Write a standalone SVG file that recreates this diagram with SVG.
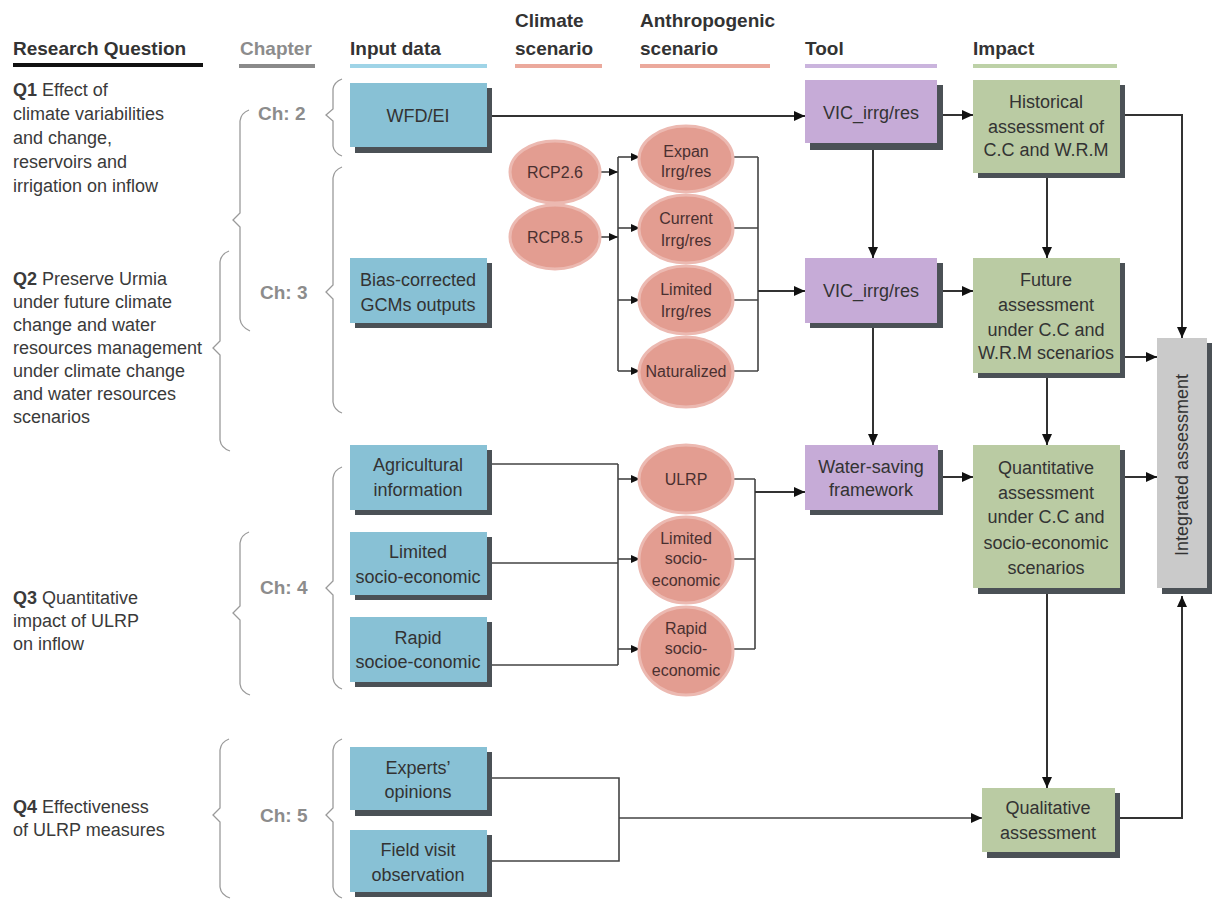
<svg xmlns="http://www.w3.org/2000/svg" width="1213" height="899" viewBox="0 0 1213 899">
<defs>
<style>
text{font-family:"Liberation Sans",Arial,sans-serif;fill:#3a3a3a}
.hd{font-size:19px;font-weight:bold;fill:#333}
.q{font-size:18px}
.qb{font-weight:bold}
.ch{font-size:19px;font-weight:bold;fill:#8c8c8c}
.bt{font-size:18px;text-anchor:middle;fill:#333}
.et{font-size:16px;text-anchor:middle;fill:#4a3030}
.sh{fill:#4b5156}
.blue{fill:#88c1d5}
.purp{fill:#c6abd7}
.green{fill:#bacba3}
.gray{fill:#cacaca}
.ell{fill:#e39d91;stroke:#ecb9b1;stroke-width:3}
.br{fill:none;stroke:#9a9a9a;stroke-width:1.3}
.c{fill:none;stroke:#333;stroke-width:2}
.cs{fill:none;stroke:#444;stroke-width:1.6}
</style>
<marker id="ah" markerUnits="userSpaceOnUse" markerWidth="12" markerHeight="10" refX="11" refY="5" orient="auto"><path d="M0,0 L11,5 L0,10 z" fill="#111"/></marker>
<marker id="as" markerUnits="userSpaceOnUse" markerWidth="10" markerHeight="8" refX="9" refY="4" orient="auto"><path d="M0,0 L9,4 L0,8 z" fill="#111"/></marker>
</defs>
<rect width="1213" height="899" fill="#fff"/>

<g id="headers">
<text class="hd" x="13" y="55">Research Question</text>
<rect x="13" y="63" width="190" height="4" fill="#111"/>
<text class="hd" x="240" y="55" style="fill:#8c8c8c">Chapter</text>
<rect x="239" y="64" width="76" height="4" fill="#8a8a8a"/>
<text class="hd" x="350" y="55">Input data</text>
<rect x="350" y="64" width="137" height="4" fill="#9fd4e7"/>
<text class="hd" x="515" y="27">Climate</text>
<text class="hd" x="515" y="55">scenario</text>
<rect x="515" y="64" width="87" height="4" fill="#eba99c"/>
<text class="hd" x="640" y="27">Anthropogenic</text>
<text class="hd" x="640" y="55">scenario</text>
<rect x="640" y="64" width="130" height="4" fill="#eba99c"/>
<text class="hd" x="805" y="55">Tool</text>
<rect x="805" y="64" width="132" height="4" fill="#cab4dd"/>
<text class="hd" x="973" y="55">Impact</text>
<rect x="973" y="64" width="144" height="4" fill="#bdd1a7"/>
</g>

<g id="questions">
<text class="q" x="13" y="96"><tspan class="qb">Q1</tspan> Effect of</text>
<text class="q" x="13" y="120">climate variabilities</text>
<text class="q" x="13" y="144">and change,</text>
<text class="q" x="13" y="168">reservoirs and</text>
<text class="q" x="13" y="192">irrigation on inflow</text>
<text class="q" x="13" y="285"><tspan class="qb">Q2</tspan> Preserve Urmia</text>
<text class="q" x="13" y="308">under future climate</text>
<text class="q" x="13" y="331">change and water</text>
<text class="q" x="13" y="354">resources management</text>
<text class="q" x="13" y="377">under climate change</text>
<text class="q" x="13" y="400">and water resources</text>
<text class="q" x="13" y="423">scenarios</text>
<text class="q" x="13" y="604"><tspan class="qb">Q3</tspan> Quantitative</text>
<text class="q" x="13" y="627">impact of ULRP</text>
<text class="q" x="13" y="650">on inflow</text>
<text class="q" x="13" y="813"><tspan class="qb">Q4</tspan> Effectiveness</text>
<text class="q" x="13" y="836">of ULRP measures</text>
</g>

<g id="braces">
<path class="br" d="M249,110 Q241,113 240,121 V213 L233,220 L240,227 V319 Q241,327 250,331"/>
<path class="br" d="M229,251 Q221,254 220,262 V341 L213,348 L220,355 V440 Q221,448 230,451"/>
<path class="br" d="M249,532 Q241,535 240,543 V606 L233,613 L240,620 V684 Q241,692 250,695"/>
<path class="br" d="M229,739 Q221,742 220,750 V808 L213,815 L220,822 V887 Q221,895 230,898"/>
<path class="br" d="M342,79 Q334,82 333,89 V109 L326,115 L333,121 V146 Q334,153 342,156"/>
<path class="br" d="M342,167 Q334,170 333,178 V285 L326,292 L333,299 V402 Q334,410 342,413"/>
<path class="br" d="M342,467 Q334,470 333,478 V581 L326,588 L333,595 V678 Q334,686 342,689"/>
<path class="br" d="M342,739 Q334,742 333,750 V808 L326,815 L333,822 V887 Q334,895 342,898"/>
</g>

<g id="chapters">
<text class="ch" x="258" y="120">Ch: 2</text>
<text class="ch" x="260" y="299">Ch: 3</text>
<text class="ch" x="260" y="594">Ch: 4</text>
<text class="ch" x="260" y="822">Ch: 5</text>
</g>

<g id="connectors">
<path class="c" d="M492,116 H805" marker-end="url(#ah)"/>
<path class="c" d="M943,115 H973" marker-end="url(#ah)"/>
<path class="c" d="M1125,115 H1182 V338" marker-end="url(#ah)"/>
<path class="c" d="M873,150 V258" marker-end="url(#ah)"/>
<path class="c" d="M1047,178 V258" marker-end="url(#ah)"/>
<path class="cs" d="M601,172 H618" marker-end="url(#as)"/>
<path class="cs" d="M601,237 H618" marker-end="url(#as)"/>
<path class="cs" d="M618,157 V371"/>
<path class="cs" d="M618,157 H640" marker-end="url(#as)"/>
<path class="cs" d="M618,228 H640" marker-end="url(#as)"/>
<path class="cs" d="M618,300 H640" marker-end="url(#as)"/>
<path class="cs" d="M618,371 H640" marker-end="url(#as)"/>
<path class="cs" d="M733,157 H758 M733,228 H758 M733,300 H758 M733,371 H758 M758,157 V371"/>
<path class="c" d="M758,291 H805" marker-end="url(#ah)"/>
<path class="c" d="M943,291 H973" marker-end="url(#ah)"/>
<path class="c" d="M873,328 V445" marker-end="url(#ah)"/>
<path class="c" d="M1047,378 V445" marker-end="url(#ah)"/>
<path class="c" d="M1125,357 H1157" marker-end="url(#ah)"/>
<path class="cs" d="M492,464 H618 M492,563 H618 M492,665 H618 M618,464 V665"/>
<path class="cs" d="M618,479 H640" marker-end="url(#as)"/>
<path class="cs" d="M618,559 H640" marker-end="url(#as)"/>
<path class="cs" d="M618,649 H640" marker-end="url(#as)"/>
<path class="cs" d="M733,479 H755 M733,559 H755 M733,649 H755 M755,479 V649"/>
<path class="c" d="M755,492 H805" marker-end="url(#ah)"/>
<path class="c" d="M943,477 H973" marker-end="url(#ah)"/>
<path class="c" d="M1125,477 H1157" marker-end="url(#ah)"/>
<path class="c" d="M1047,594 V788" marker-end="url(#ah)"/>
<path class="cs" d="M492,778 H619 V861 H492 M619,818 H982" marker-end="url(#ah)"/>
<path class="c" d="M1120,818 H1182 V596" marker-end="url(#ah)"/>
</g>

<g id="wfd"><rect class="sh" x="355" y="88" width="137" height="65"/><rect class="blue" x="350" y="83" width="137" height="64"/><text class="bt" x="418" y="122">WFD/EI</text></g>
<g id="bias"><rect class="sh" x="355" y="263" width="137" height="65"/><rect class="blue" x="350" y="258" width="137" height="65"/><text class="bt" x="418" y="286">Bias-corrected</text><text class="bt" x="418" y="311">GCMs outputs</text></g>
<g id="agri"><rect class="sh" x="355" y="450" width="137" height="65"/><rect class="blue" x="350" y="445" width="137" height="65"/><text class="bt" x="418" y="471">Agricultural</text><text class="bt" x="418" y="496">information</text></g>
<g id="limsoc-in"><rect class="sh" x="355" y="537" width="137" height="63"/><rect class="blue" x="350" y="532" width="137" height="63"/><text class="bt" x="418" y="558">Limited</text><text class="bt" x="418" y="583">socio-economic</text></g>
<g id="rapsoc-in"><rect class="sh" x="355" y="622" width="137" height="65"/><rect class="blue" x="350" y="617" width="137" height="65"/><text class="bt" x="418" y="644">Rapid</text><text class="bt" x="418" y="668">socioe-conomic</text></g>
<g id="experts"><rect class="sh" x="355" y="752" width="137" height="64"/><rect class="blue" x="350" y="747" width="137" height="63"/><text class="bt" x="418" y="774">Experts’</text><text class="bt" x="418" y="798">opinions</text></g>
<g id="field"><rect class="sh" x="355" y="835" width="137" height="62"/><rect class="blue" x="350" y="830" width="137" height="62"/><text class="bt" x="418" y="856">Field visit</text><text class="bt" x="418" y="881">observation</text></g>

<g id="rcp26"><ellipse class="ell" cx="555" cy="172" rx="45" ry="31"/><text class="et" x="555" y="178">RCP2.6</text></g>
<g id="rcp85"><ellipse class="ell" cx="555" cy="237" rx="45" ry="32"/><text class="et" x="555" y="243">RCP8.5</text></g>

<g id="expan"><ellipse class="ell" cx="686" cy="159" rx="47" ry="33"/><text class="et" x="686" y="157">Expan</text><text class="et" x="686" y="177">Irrg/res</text></g>
<g id="current"><ellipse class="ell" cx="686" cy="229" rx="47" ry="34"/><text class="et" x="686" y="224">Current</text><text class="et" x="686" y="246">Irrg/res</text></g>
<g id="limited"><ellipse class="ell" cx="686" cy="300" rx="47" ry="34"/><text class="et" x="686" y="295">Limited</text><text class="et" x="686" y="317">Irrg/res</text></g>
<g id="naturalized"><ellipse class="ell" cx="686" cy="372" rx="47" ry="35"/><text class="et" x="686" y="377">Naturalized</text></g>
<g id="ulrp"><ellipse class="ell" cx="686" cy="479" rx="47" ry="34"/><text class="et" x="686" y="485">ULRP</text></g>
<g id="limsoc"><ellipse class="ell" cx="686" cy="560" rx="47" ry="43"/><text class="et" x="686" y="544">Limited</text><text class="et" x="686" y="564">socio-</text><text class="et" x="686" y="586">economic</text></g>
<g id="rapsoc"><ellipse class="ell" cx="686" cy="651" rx="47" ry="44"/><text class="et" x="686" y="634">Rapid</text><text class="et" x="686" y="654">socio-</text><text class="et" x="686" y="676">economic</text></g>

<g id="vic1"><rect class="sh" x="810" y="85" width="133" height="65"/><rect class="purp" x="805" y="80" width="132" height="63"/><text class="bt" x="871" y="119">VIC_irrg/res</text></g>
<g id="vic2"><rect class="sh" x="810" y="263" width="133" height="65"/><rect class="purp" x="805" y="258" width="132" height="65"/><text class="bt" x="871" y="297">VIC_irrg/res</text></g>
<g id="watersaving"><rect class="sh" x="810" y="450" width="133" height="65"/><rect class="purp" x="805" y="445" width="133" height="65"/><text class="bt" x="871" y="473">Water-saving</text><text class="bt" x="871" y="496">framework</text></g>

<g id="historical"><rect class="sh" x="978" y="85" width="147" height="93"/><rect class="green" x="973" y="80" width="147" height="93"/><text class="bt" x="1046" y="108">Historical</text><text class="bt" x="1046" y="133">assessment of</text><text class="bt" x="1046" y="156">C.C and W.R.M</text></g>
<g id="future"><rect class="sh" x="978" y="263" width="147" height="115"/><rect class="green" x="973" y="258" width="147" height="115"/><text class="bt" x="1046" y="286">Future</text><text class="bt" x="1046" y="311">assessment</text><text class="bt" x="1046" y="336">under C.C and</text><text class="bt" x="1046" y="359">W.R.M scenarios</text></g>
<g id="quantitative"><rect class="sh" x="978" y="450" width="147" height="144"/><rect class="green" x="973" y="445" width="147" height="143"/><text class="bt" x="1046" y="474">Quantitative</text><text class="bt" x="1046" y="499">assessment</text><text class="bt" x="1046" y="523">under C.C and</text><text class="bt" x="1046" y="549">socio-economic</text><text class="bt" x="1046" y="574">scenarios</text></g>
<g id="qualitative"><rect class="sh" x="987" y="793" width="133" height="65"/><rect class="green" x="982" y="788" width="133" height="64"/><text class="bt" x="1048" y="814">Qualitative</text><text class="bt" x="1048" y="839">assessment</text></g>
<g id="integrated"><rect class="sh" x="1162" y="343" width="50" height="251"/><rect class="gray" x="1157" y="338" width="50" height="250"/><text class="bt" transform="translate(1188,465) rotate(-90)" x="0" y="0">Integrated assessment</text></g>
</svg>
